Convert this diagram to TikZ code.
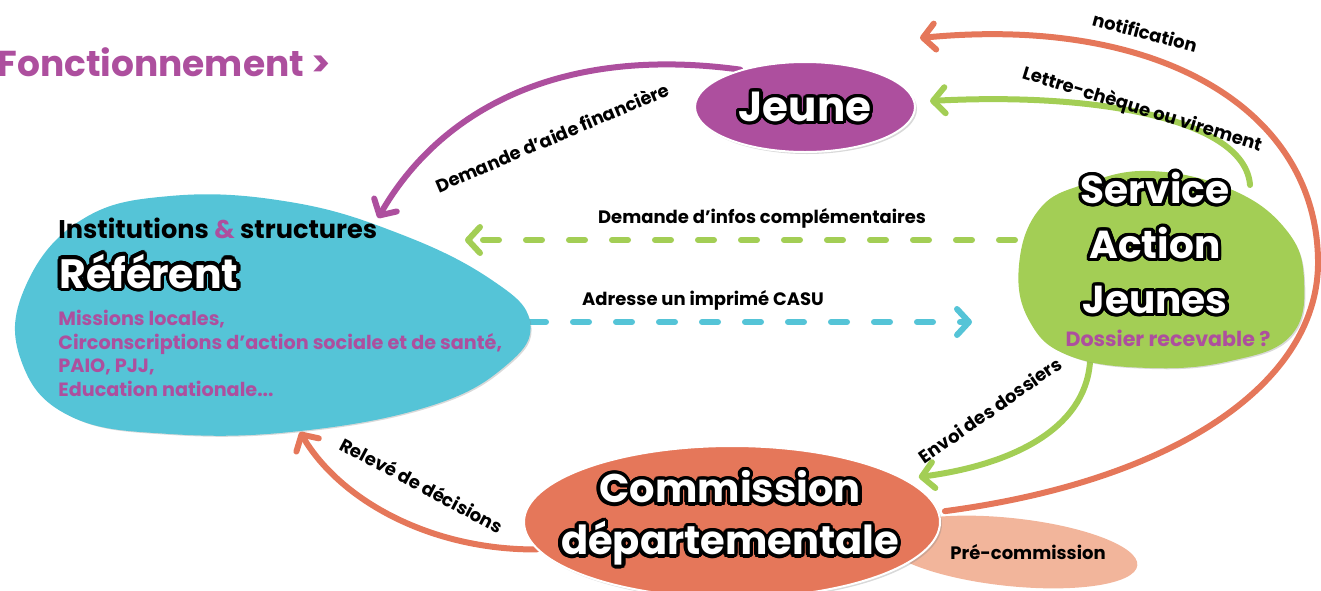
\documentclass[tikz,border=0pt]{standalone}
\usepackage{fontspec}
\setmainfont{Poppins}
\usetikzlibrary{arrows.meta,shapes.geometric,shadows,backgrounds}
\definecolor{cjeune}{HTML}{AD4F9E}
\definecolor{cservice}{HTML}{A3CE55}
\definecolor{creferent}{HTML}{55C4D7}
\definecolor{ccommission}{HTML}{E5775A}
\definecolor{cpre}{HTML}{F2B59B}
% texte blanc entoure de noir
\newcommand\contourtxt[1]{{\leavevmode\rlap{\color{black}\foreach \a in {0,15,...,345}{%
  \pgfmathsetlengthmacro\dx{1.7pt*cos(\a)}\pgfmathsetlengthmacro\dy{1.7pt*sin(\a)}%
  \rlap{\hspace*{\dx}\raisebox{\dy}{#1}}}}\color{white}#1}}

\begin{document}
\begin{tikzpicture}[x=0.5pt,y=-0.5pt,
fleche/.style={line width=3pt,line cap=round,-{Straight Barb[length=6pt,width=13pt,round]}},
tirets/.style={fleche,dash pattern=on 8pt off 13.5pt},
lab/.style={font=\fontsize{9}{10}\selectfont\bfseries,inner sep=0pt},
gros/.style={font=\fontsize{20}{26}\selectfont\bfseries,align=center,inner sep=0pt},
liste/.style={anchor=base west,inner sep=0pt,text=cjeune,font=\fontsize{9.6}{10}\selectfont\bfseries},
bulle/.style={draw=white,line width=1pt,drop shadow={shadow xshift=1pt,shadow yshift=-1pt,opacity=.3}}
]
\useasboundingbox (0,0) rectangle (1321,590);

% titre
\node[anchor=west,inner sep=0pt,text=cjeune,font=\fontsize{18}{20}\selectfont\bfseries] (titre) at (-3,62) {Fonctionnement >};

% referent
\fill[bulle,creferent] plot[smooth cycle,tension=0.7] coordinates {(529,322) (490,280) (400,235) (290,203) (170,197) (80,222) (25,290) (22,360) (70,415) (170,433) (300,430) (430,405) (505,365)};
\node[anchor=base west,inner sep=0pt,font=\fontsize{12.8}{14}\selectfont\bfseries] (institutions) at (58,238) {Institutions \textcolor{cjeune}{\&} structures};
\node[anchor=base west,inner sep=0pt,font=\fontsize{20.5}{22}\selectfont\bfseries] (referent) at (59,288) {\contourtxt{Référent}};
\node[liste] (missions) at (58,325) {Missions locales,};
\node[liste] (circonscriptions) at (58,349) {Circonscriptions d’action sociale et de santé,};
\node[liste] (paio) at (58,372) {PAIO, PJJ,};
\node[liste] (education) at (58,396) {Education nationale...};
\coordinate (refpointe) at (530,322);
\coordinate (refhaut) at (378,218);
\coordinate (refdroite) at (465,240);
\coordinate (refbas) at (300,432);

% service action jeunes
\fill[bulle,cservice] plot[smooth cycle,tension=0.7] coordinates {(1020,265) (1040,210) (1085,185) (1150,172) (1230,190) (1285,230) (1303,280) (1290,335) (1230,360) (1150,367) (1070,355) (1030,320)};
\node[gros,font=\fontsize{19.5}{27.5}\selectfont\bfseries] (service) at (1155,243) {\contourtxt{Service}\\\contourtxt{Action}\\\contourtxt{Jeunes}};
\node[lab,text=cjeune,font=\fontsize{10.3}{11}\selectfont\bfseries] (recevable) at (1168,338) {Dossier recevable ?};
\coordinate (serviceouest) at (1015,240);
\coordinate (servicehaut) at (1250,185);
\coordinate (servicebas) at (1090,362);
\coordinate (serviceentree) at (972,322);
\coordinate (notifbout) at (920,38);

% jeune
\node[bulle,ellipse,fill=cjeune,minimum width=110pt,minimum height=45pt] (jeune) at (805,107) {};
\node[gros,font=\fontsize{21}{26}\selectfont\bfseries] (jeunetxt) at (jeune) {\contourtxt{Jeune}};

% commission
\fill[cpre,rotate around={-6:(1010,552)}] (1010,552) ellipse (128 and 34);
\node[lab,anchor=west] (pre) at (950,552) {Pré-commission};
\node[bulle,ellipse,fill=ccommission,minimum width=208pt,minimum height=76pt] (commission) at (732,522) {};
\node[gros] (commissiontxt) at (730,518) {\contourtxt{Commission}\\\contourtxt{départementale}};

% fleches
\begin{scope}[on background layer]
\draw[fleche,cjeune] (jeune.150) .. controls (560,45) and (440,110) .. (refhaut);
\draw[fleche,cservice] (servicehaut) .. controls (1245,120) and (1100,92) .. ([xshift=7pt,yshift=3pt]jeune.east);
\draw[fleche,ccommission] ([xshift=3pt]commission.3) .. controls (1180,480) and (1320,380) .. (1318,260)
  .. controls (1316,110) and (1160,15) .. (notifbout);
\draw[fleche,cservice] (servicebas) .. controls (1085,430) and (1010,465) .. ([xshift=15pt,yshift=-3pt]commission.18);
\draw[fleche,ccommission] (commission.188) .. controls (430,550) and (340,500) .. (refbas);
\draw[tirets,cservice] (serviceouest) -- (refdroite);
\draw[tirets,creferent] (refpointe) -- (serviceentree);
\end{scope}

% textes des fleches
\node[lab,rotate=23] (lbdemande) at (552,137) {Demande d’aide financière};
\node[lab,rotate=-17] (lblettre) at (1142,110) {Lettre-chèque ou virement};
\node[lab,rotate=-15] (lbnotif) at (1145,32) {notification};
\node[lab] (lbinfos) at (762,218) {Demande d’infos complémentaires};
\node[lab] (lbcasu) at (703,300) {Adresse un imprimé CASU};
\node[lab,rotate=35] (lbenvoi) at (990,410) {Envoi des dossiers};
\node[lab,rotate=-28] (lbreleve) at (422,485) {Relevé de décisions};
\end{tikzpicture}
\end{document}
